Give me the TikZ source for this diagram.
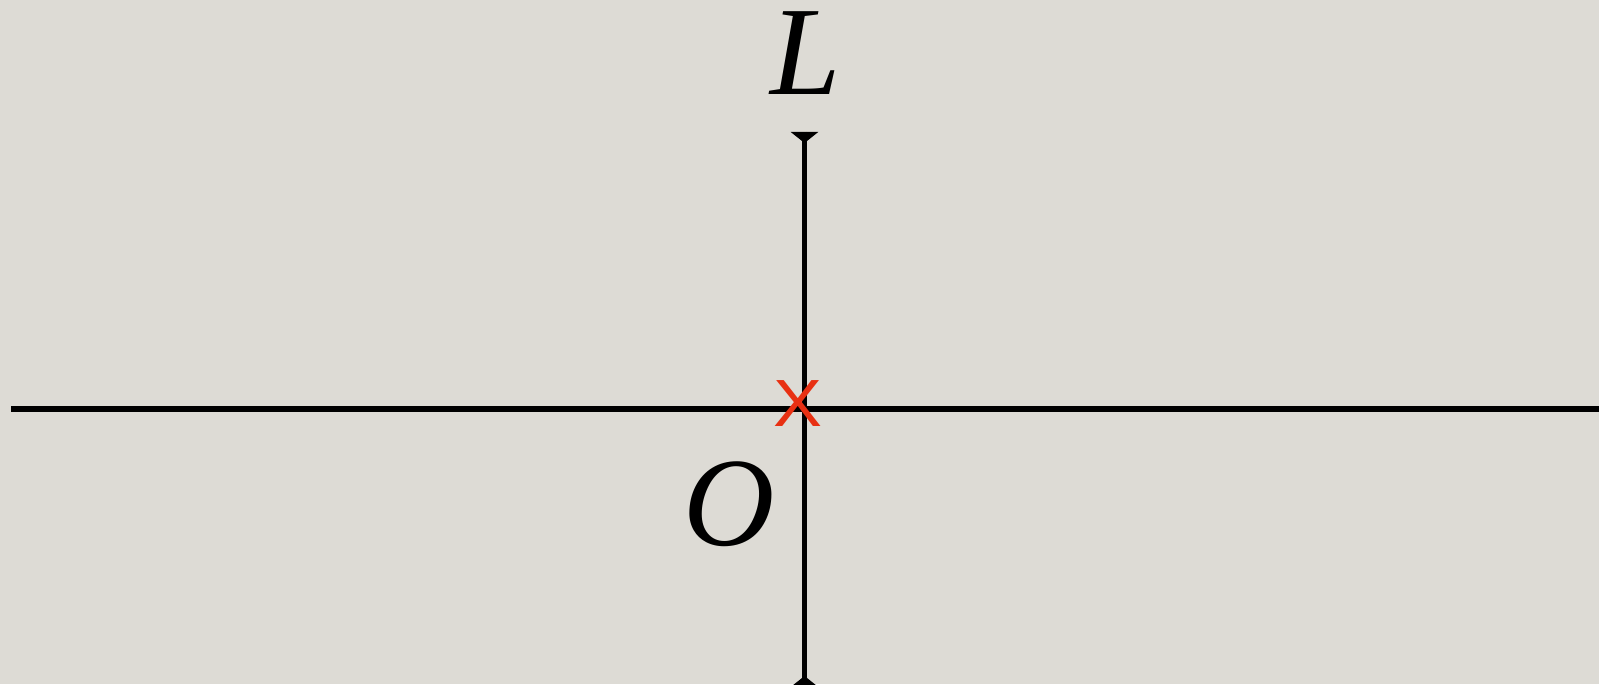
\documentclass[tikz,border=0pt]{standalone}
\usepackage{fontspec}
\setmainfont{Liberation Serif}
\newfontfamily\marksans{Liberation Sans}
\usepackage{tikz}
\usetikzlibrary{arrows.meta,positioning,calc}
\definecolor{PaperGray}{RGB}{221,219,213}
\definecolor{MarkRed}{RGB}{232,48,18}

\begin{document}
\begin{tikzpicture}[
    axisline/.style={line width=1.7pt,black},
    lensend/.style={-{Triangle[reversed,length=0.11cm,width=0.27cm]}},
    bigletter/.style={font=\fontsize{36}{40}\selectfont\itshape,inner sep=0pt},
    crossmark/.style={font=\marksans\fontsize{19}{20}\selectfont,text=MarkRed,inner sep=0pt,xscale=1.1}
  ]
  % paper and frame
  \fill[PaperGray] (0,0) rectangle (15.99,6.84);
  \useasboundingbox (0,0) rectangle (15.99,6.84);
  \clip (0,0) rectangle (15.99,6.84);

  % ends of the two lines
  \coordinate (axisL) at (0.11,2.75);
  \coordinate (axisR) at (16.2,2.75);
  \coordinate (lensTop) at (8.045,5.52);
  \coordinate (lensBot) at (8.045,-0.03);

  \draw[axisline] (axisL) -- (axisR);
  \draw[axisline,lensend] (lensTop) -- (lensBot);
  \draw[axisline,lensend] (lensBot) -- (lensTop);

  % labels
  \node[bigletter] (lensname) at (8.06,6.31) {L};
  \node[bigletter] (origin) at (7.29,1.80) {O};
  \node[crossmark] (center) at (7.98,2.80) {X};
\end{tikzpicture}
\end{document}
